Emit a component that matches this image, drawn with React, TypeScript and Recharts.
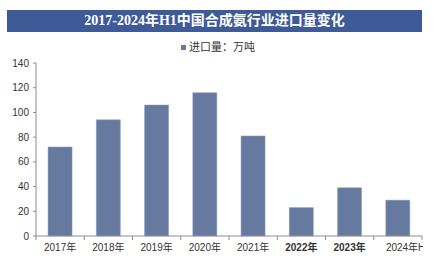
import React from 'react';
import { BarChart, Bar, XAxis, YAxis } from 'recharts';

const categories = ['2017年', '2018年', '2019年', '2020年', '2021年', '2022年', '2023年', '2024年H1'];
const importVolume = [72, 94, 106, 116, 81, 23, 39, 29];
const yTicks = [0, 20, 40, 60, 80, 100, 120, 140];
const boldCategories = ['2022年', '2023年'];

const data = categories.map((c, i) => ({ name: c, value: importVolume[i] }));

const BAR_COLOR = '#667a9f';
const AXIS_COLOR = '#8c8c8c';

const XTick = (props: any) => {
  const { x, y, payload, index } = props;
  const half = payload && typeof payload.offset === 'number' && payload.offset > 0 ? payload.offset : 24;
  const label = String(payload.value);
  const bold = boldCategories.includes(label);
  const last = index === categories.length - 1;
  return (
    <g>
      <defs>
        <clipPath id={`xclip-${index}`}>
          <rect x={x - half} y={y} width={half * 2 + 1} height={20} />
        </clipPath>
      </defs>
      <line x1={x - half} y1={y} x2={x - half} y2={y + 4} stroke={AXIS_COLOR} />
      {last && <line x1={x + half} y1={y} x2={x + half} y2={y + 4} stroke={AXIS_COLOR} />}
      <text
        x={last ? x - 12 : x}
        y={y + 15}
        textAnchor={last ? 'start' : 'middle'}
        fontSize={10}
        fill="#333"
        fontWeight={bold ? 'bold' : 'normal'}
        fontFamily="'Liberation Sans', 'Noto Sans CJK SC', sans-serif"
        clipPath={last ? `url(#xclip-${index})` : undefined}
      >
        {label}
      </text>
    </g>
  );
};

export default function App() {
  return (
    <div style={{ position: 'absolute', left: 0, top: 0, width: 436, height: 256, background: '#fff', overflow: 'hidden' }}>
      <div
        style={{
          position: 'absolute',
          left: 7,
          top: 10,
          width: 415,
          height: 22,
          background: '#3e5b97',
          color: '#fff',
          fontFamily: "'Liberation Serif', 'Noto Sans CJK SC', serif",
          fontWeight: 'bold',
          fontSize: 14,
          lineHeight: '22px',
          textAlign: 'center',
        }}
      >
        2017-2024年H1中国合成氨行业进口量变化
      </div>
      <div
        style={{
          position: 'absolute',
          left: 0,
          top: 40,
          width: 436,
          textAlign: 'center',
          fontFamily: "'Liberation Sans', 'Noto Sans CJK SC', sans-serif",
          fontSize: 11,
          color: '#333',
          lineHeight: '14px',
        }}
      >
        <span style={{ display: 'inline-block', width: 5, height: 5, background: BAR_COLOR, marginRight: 3, verticalAlign: 'middle', position: 'relative', top: -1 }} />
        进口量：万吨
      </div>
      <div style={{ position: 'absolute', left: 0, top: 0 }}>
        <BarChart
          width={436}
          height={256}
          data={data}
          margin={{ top: 63, right: 14, bottom: 0, left: 0 }}
          barCategoryGap="25%"
        >
          <XAxis
            dataKey="name"
            tick={<XTick />}
            tickLine={false}
            tickSize={0}
            tickMargin={0}
            axisLine={{ stroke: AXIS_COLOR }}
            interval={0}
            height={20}
          />
          <YAxis
            width={36}
            domain={[0, 140]}
            ticks={yTicks}
            interval={0}
            tickSize={3}
            tickMargin={4}
            axisLine={{ stroke: AXIS_COLOR }}
            tickLine={{ stroke: AXIS_COLOR }}
            tick={{ fontSize: 10, fill: '#333', fontFamily: "'Liberation Sans', Arial, sans-serif" }}
          />
          <Bar dataKey="value" fill={BAR_COLOR} stroke="#8a9aba" strokeWidth={0.5} isAnimationActive={false} />
        </BarChart>
      </div>
    </div>
  );
}
